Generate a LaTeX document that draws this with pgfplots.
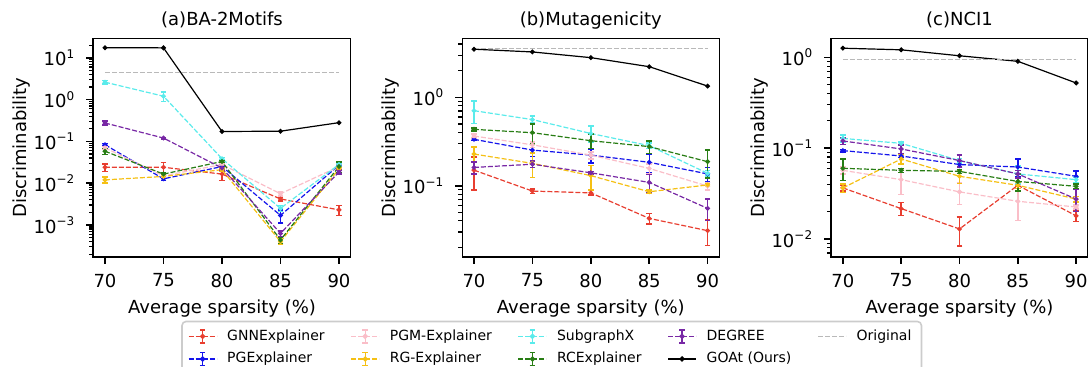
\documentclass[border=0pt]{standalone}
\usepackage{fontspec}
\setmainfont{DejaVu Sans}
\usepackage{pgfplots}
\pgfplotsset{compat=1.18}
\definecolor{cgnn}{RGB}{232,62,48}
\definecolor{cpg}{RGB}{20,20,235}
\definecolor{cpgm}{RGB}{250,190,200}
\definecolor{crg}{RGB}{245,192,20}
\definecolor{csub}{RGB}{90,235,235}
\definecolor{crc}{RGB}{40,125,20}
\definecolor{cdeg}{RGB}{120,40,165}
\definecolor{corig}{RGB}{185,185,185}
\definecolor{cframe}{RGB}{204,204,204}
\pgfplotsset{
 ser/.style={color=#1, line width=0.6pt, dash pattern=on 2.5pt off 1pt, mark=*, mark size=0.9pt, mark options={solid}, forget plot,
   error bars/y dir=both, error bars/y explicit,
   error bars/error mark options={rotate=90, mark size=1.4pt, line width=0.8pt, solid, color=#1},
   error bars/error bar style={solid, line width=0.7pt, color=#1}},
 goat/.style={black, line width=0.6pt, solid, mark=*, mark size=0.9pt, forget plot},
 orig/.style={corig, line width=0.6pt, dash pattern=on 2.5pt off 1pt, forget plot},
 errleg/.style={legend image code/.code={
   \draw[#1, line width=0.6pt, dash pattern=on 2.5pt off 1pt] (0pt,0pt) -- (14pt,0pt);
   \draw[#1, solid, line width=0.7pt] (7pt,-3.3pt) -- (7pt,3.3pt);
   \draw[#1, solid, line width=0.8pt] (5.6pt,3.3pt) -- (8.4pt,3.3pt) (5.6pt,-3.3pt) -- (8.4pt,-3.3pt);
   \fill[#1] (7pt,0pt) circle (0.9pt);
 }},
 goatleg/.style={legend image code/.code={
   \draw[black, line width=0.6pt] (0pt,0pt) -- (14pt,0pt);
   \fill[black] (7pt,0pt) circle (0.9pt);
 }},
 origleg/.style={legend image code/.code={
   \draw[corig, line width=0.6pt, dash pattern=on 2.5pt off 1pt] (0pt,0pt) -- (14pt,0pt);
 }},
 gx/.style={
  scale only axis, height=109.2pt,
  xmin=69, xmax=91,
  xtick={70,75,80,85,90}, xticklabels={70,75,80,85,90},
  tick align=outside, tick pos=left,
  major tick length=3.5pt, minor tick length=2pt,
  major tick style={black, line width=0.8pt},
  minor tick style={black, line width=0.6pt},
  axis line style={line width=0.8pt},
  font=\fontsize{9}{10.8}\selectfont,
  xticklabel style={yshift=-1.5pt},
  yticklabel style={xshift=-2pt},
  xlabel={Average sparsity (\%)}, ylabel={Discriminability},
 },
 every axis title/.style={at={(0.5,1)}, anchor=base, yshift=6.5pt},
 every axis x label/.style={at={(0.5,0)}, anchor=base, yshift=-28.2pt},
 every axis y label/.style={at={(0,0.5)}, xshift=-33.35pt, rotate=90, anchor=base},
}
\begin{document}
\begin{tikzpicture}
% ---------------- (a) BA-2Motifs
\begin{semilogyaxis}[gx, at={(46.65pt,54.65pt)}, anchor=south west, width=128.7pt, height=109.2pt,
  title={(a)BA-2Motifs}, ymin=1.746e-4, ymax=29.1,
  ytick={1e-3,1e-2,1e-1,1,10},
  yticklabels={10\textsuperscript{−3},10\textsuperscript{−2},10\textsuperscript{−1},10\textsuperscript{0},10\textsuperscript{1}},
  minor ytick={2e-4,3e-4,4e-4,5e-4,6e-4,7e-4,8e-4,9e-4,2e-3,3e-3,4e-3,5e-3,6e-3,7e-3,8e-3,9e-3,2e-2,3e-2,4e-2,5e-2,6e-2,7e-2,8e-2,9e-2,0.2,0.3,0.4,0.5,0.6,0.7,0.8,0.9,2,3,4,5,6,7,8,9,20}]
\addplot[ser=cgnn] table[x=x,y=y,y error=e,row sep=\\]{x y e\\70 0.024 0.005\\75 0.024 0.007\\80 0.0165 0.005\\85 0.0042 0.0004\\90 0.0023 0.0006\\};
\addplot[ser=cpg] table[x=x,y=y,y error=e,row sep=\\]{x y e\\70 0.083 0.005\\75 0.0127 0.001\\80 0.025 0.002\\85 0.0017 0.0006\\90 0.027 0.003\\};
\addplot[ser=cpgm] table[x=x,y=y,y error=e,row sep=\\]{x y e\\70 0.07 0.005\\75 0.015 0.001\\80 0.028 0.002\\85 0.0056 0.0006\\90 0.025 0.002\\};
\addplot[ser=crg] table[x=x,y=y,y error=e,row sep=\\]{x y e\\70 0.012 0.002\\75 0.0145 0.0015\\80 0.021 0.002\\85 0.0004 0.00005\\90 0.022 0.002\\};
\addplot[ser=csub] table[x=x,y=y,y error=e,row sep=\\]{x y e\\70 2.6 0.25\\75 1.2 0.3\\80 0.0385 0.003\\85 0.0025 0.0004\\90 0.028 0.002\\};
\addplot[ser=crc] table[x=x,y=y,y error=e,row sep=\\]{x y e\\70 0.058 0.01\\75 0.0165 0.0015\\80 0.033 0.002\\85 0.00044 0.00008\\90 0.025 0.007\\};
\addplot[ser=cdeg] table[x=x,y=y,y error=e,row sep=\\]{x y e\\70 0.275 0.03\\75 0.12 0.005\\80 0.023 0.002\\85 0.00063 0.0001\\90 0.0185 0.002\\};
\addplot[goat] table[x=x,y=y,row sep=\\]{x y\\70 17.3\\75 17.2\\80 0.172\\85 0.175\\90 0.28\\};
\addplot[orig] table[x=x,y=y,row sep=\\]{x y\\70 4.37\\90 4.37\\};
\end{semilogyaxis}
% ---------------- (b) Mutagenicity
\begin{semilogyaxis}[gx, at={(231.15pt,54.65pt)}, anchor=south west, width=128.5pt, height=109.2pt,
  title={(b)Mutagenicity}, ymin=0.01574, ymax=4.65,
  ytick={0.1,1},
  yticklabels={10\textsuperscript{−1},10\textsuperscript{0}},
  minor ytick={2e-2,3e-2,4e-2,5e-2,6e-2,7e-2,8e-2,9e-2,0.2,0.3,0.4,0.5,0.6,0.7,0.8,0.9,2,3,4},
  legend columns=5, legend cell align=left,
  legend style={at={(0.348,-0.293)}, anchor=north, font=\fontsize{7}{8.4}\selectfont,
    draw=cframe, rounded corners=2pt, line width=0.8pt, inner xsep=3pt, inner ysep=2pt, row sep=0.5pt,
    /tikz/every odd column/.append style={column sep=3pt},
    /tikz/every even column/.append style={column sep=11pt}}]
\addplot[ser=cgnn] table[x=x,y=y,y error=e,row sep=\\]{x y e\\70 0.15 0.06\\75 0.087 0.005\\80 0.083 0.005\\85 0.0427 0.006\\90 0.031 0.01\\};
\addplot[ser=cpg] table[x=x,y=y,y error=e,row sep=\\]{x y e\\70 0.335 0.01\\75 0.253 0.04\\80 0.222 0.04\\85 0.184 0.045\\90 0.136 0.025\\};
\addplot[ser=cpgm] table[x=x,y=y,y error=e,row sep=\\]{x y e\\70 0.365 0.02\\75 0.29 0.02\\80 0.222 0.02\\85 0.157 0.02\\90 0.099 0.01\\};
\addplot[ser=crg] table[x=x,y=y,y error=e,row sep=\\]{x y e\\70 0.228 0.045\\75 0.179 0.055\\80 0.13 0.04\\85 0.0855 0.004\\90 0.102 0.004\\};
\addplot[ser=csub] table[x=x,y=y,y error=e,row sep=\\]{x y e\\70 0.706 0.2\\75 0.56 0.05\\80 0.39 0.08\\85 0.284 0.02\\90 0.138 0.01\\};
\addplot[ser=crc] table[x=x,y=y,y error=e,row sep=\\]{x y e\\70 0.434 0.015\\75 0.398 0.1\\80 0.323 0.06\\85 0.277 0.045\\90 0.187 0.065\\};
\addplot[ser=cdeg] table[x=x,y=y,y error=e,row sep=\\]{x y e\\70 0.161 0.025\\75 0.175 0.015\\80 0.14 0.005\\85 0.109 0.025\\90 0.0554 0.015\\};
\addplot[goat] table[x=x,y=y,row sep=\\]{x y\\70 3.5\\75 3.26\\80 2.81\\85 2.22\\90 1.34\\};
\addplot[orig] table[x=x,y=y,row sep=\\]{x y\\70 3.59\\90 3.59\\};
\addlegendimage{errleg=cgnn}\addlegendentry{GNNExplainer}
\addlegendimage{errleg=cpgm}\addlegendentry{PGM-Explainer}
\addlegendimage{errleg=csub}\addlegendentry{SubgraphX}
\addlegendimage{errleg=cdeg}\addlegendentry{DEGREE}
\addlegendimage{origleg}\addlegendentry{Original}
\addlegendimage{errleg=cpg}\addlegendentry{PGExplainer}
\addlegendimage{errleg=crg}\addlegendentry{RG-Explainer}
\addlegendimage{errleg=crc}\addlegendentry{RCExplainer}
\addlegendimage{goatleg}\addlegendentry{GOAt (Ours)}
\end{semilogyaxis}
% ---------------- (c) NCI1
\begin{semilogyaxis}[gx, at={(415.6pt,54.65pt)}, anchor=south west, width=128.3pt, height=109.2pt,
  title={(c)NCI1}, ymin=0.00638, ymax=1.62,
  ytick={0.01,0.1,1},
  yticklabels={10\textsuperscript{−2},10\textsuperscript{−1},10\textsuperscript{0}},
  minor ytick={7e-3,8e-3,9e-3,2e-2,3e-2,4e-2,5e-2,6e-2,7e-2,8e-2,9e-2,0.2,0.3,0.4,0.5,0.6,0.7,0.8,0.9}]
\addplot[ser=cgnn] table[x=x,y=y,y error=e,row sep=\\]{x y e\\70 0.0365 0.003\\75 0.0216 0.0035\\80 0.0129 0.0045\\85 0.039 0.001\\90 0.018 0.0025\\};
\addplot[ser=cpg] table[x=x,y=y,y error=e,row sep=\\]{x y e\\70 0.094 0.003\\75 0.082 0.003\\80 0.066 0.004\\85 0.062 0.014\\90 0.049 0.007\\};
\addplot[ser=cpgm] table[x=x,y=y,y error=e,row sep=\\]{x y e\\70 0.057 0.005\\75 0.045 0.014\\80 0.033 0.009\\85 0.026 0.01\\90 0.0225 0.001\\};
\addplot[ser=crg] table[x=x,y=y,y error=e,row sep=\\]{x y e\\70 0.0365 0.004\\75 0.076 0.009\\80 0.049 0.008\\85 0.039 0.003\\90 0.0275 0.002\\};
\addplot[ser=csub] table[x=x,y=y,y error=e,row sep=\\]{x y e\\70 0.128 0.012\\75 0.113 0.004\\80 0.073 0.004\\85 0.052 0.012\\90 0.045 0.003\\};
\addplot[ser=crc] table[x=x,y=y,y error=e,row sep=\\]{x y e\\70 0.06 0.016\\75 0.057 0.003\\80 0.0555 0.003\\85 0.043 0.009\\90 0.038 0.002\\};
\addplot[ser=cdeg] table[x=x,y=y,y error=e,row sep=\\]{x y e\\70 0.12 0.01\\75 0.098 0.011\\80 0.073 0.011\\85 0.052 0.005\\90 0.0275 0.0075\\};
\addplot[goat] table[x=x,y=y,row sep=\\]{x y\\70 1.26\\75 1.21\\80 1.04\\85 0.904\\90 0.522\\};
\addplot[orig] table[x=x,y=y,row sep=\\]{x y\\70 0.95\\90 0.95\\};
\end{semilogyaxis}
\pgfresetboundingbox
\useasboundingbox (0,0) rectangle (544pt,183pt);
\end{tikzpicture}
\end{document}
